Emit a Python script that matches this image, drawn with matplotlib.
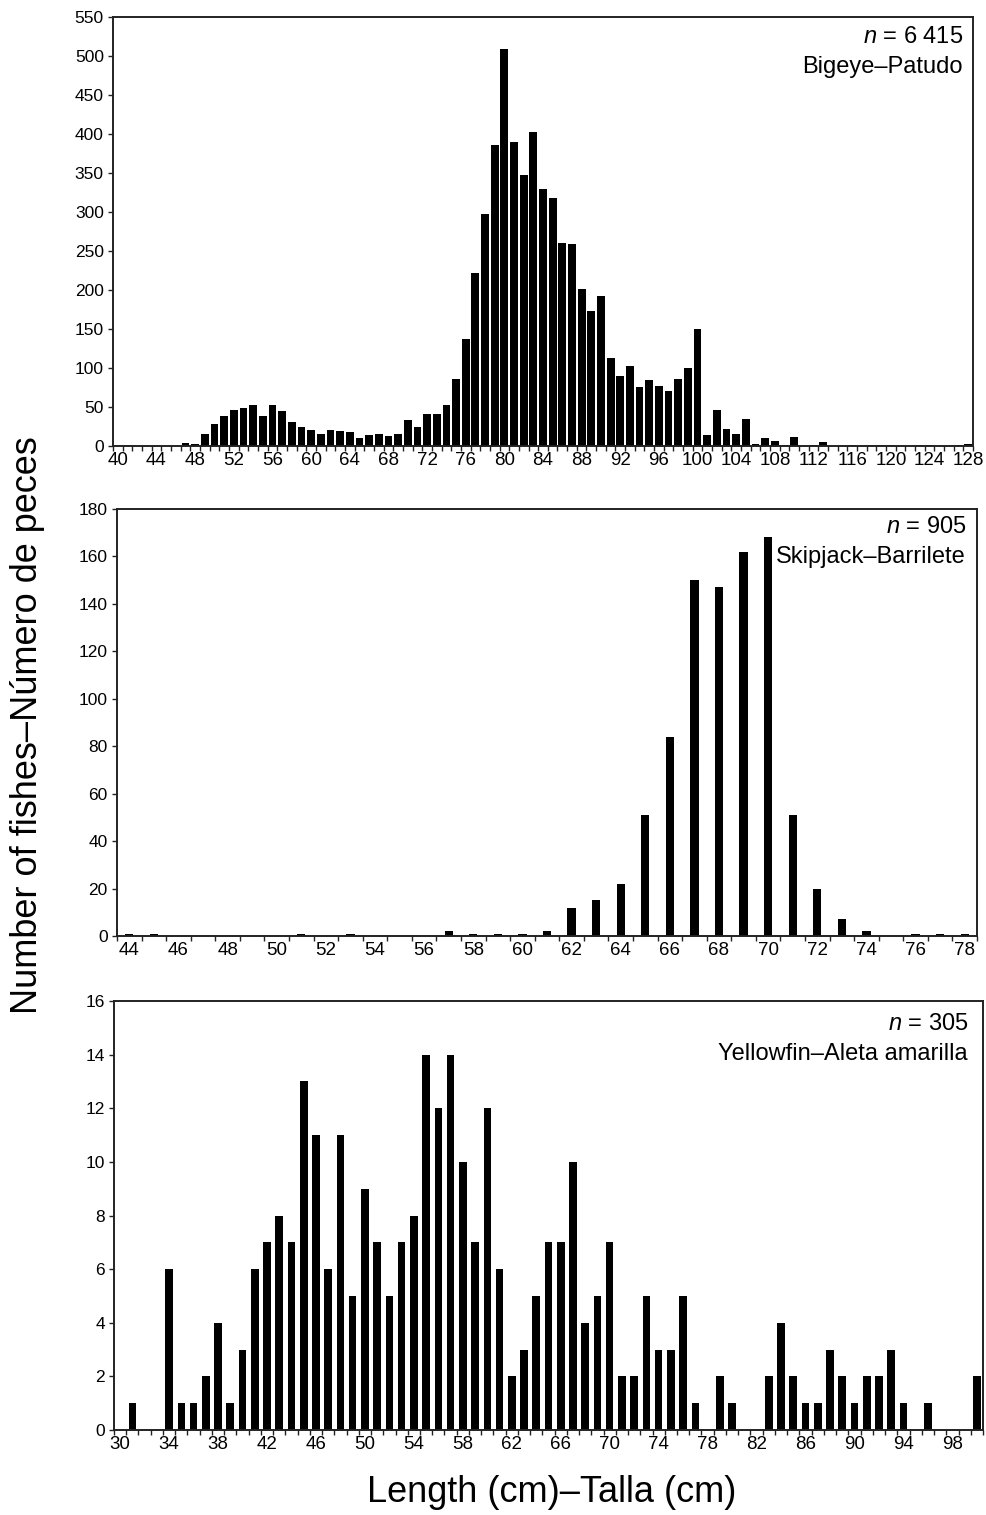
import numpy as np
import matplotlib
matplotlib.use("Agg")
import matplotlib.pyplot as plt

plt.rcParams['font.family'] = ['Liberation Sans', 'DejaVu Sans']
plt.rcParams['mathtext.fontset'] = 'custom'
plt.rcParams['mathtext.rm'] = 'Liberation Sans'
plt.rcParams['mathtext.it'] = 'Liberation Sans:italic'

# Bigeye length classes 40..128 cm
bigeye_len = list(range(40, 129))
bigeye_cnt = [0, 1, 0, 0, 0, 0, 0, 4, 3, 15,
              28, 39, 46, 49, 52, 39, 52, 45, 31, 24,
              20, 15, 20, 19, 18, 10, 14, 15, 13, 16,
              33, 24, 41, 41, 52, 86, 137, 222, 298, 386,
              509, 390, 347, 402, 330, 318, 260, 259, 201, 173,
              192, 113, 90, 102, 76, 84, 77, 71, 86, 100,
              150, 14, 46, 22, 16, 35, 2, 10, 7, 1,
              11, 0, 1, 5, 0, 0, 1, 0, 1, 1,
              1, 0, 0, 1, 1, 0, 0, 1, 2]
bigeye_ticks = list(range(40, 129, 4))

# Skipjack length classes 44..78 cm
skj_len = list(range(44, 79))
skj_cnt = [1, 1, 0, 0, 0, 0, 0, 1, 0, 1,
           0, 0, 0, 2, 1, 1, 1, 2, 12, 15,
           22, 51, 84, 150, 147, 162, 168, 51, 20, 7,
           2, 0, 1, 1, 1]
skj_ticks = list(range(44, 79, 2))

# Yellowfin length classes 30..100 cm
yft_len = list(range(30, 101))
yft_cnt = [0, 1, 0, 0, 6, 1, 1, 2, 4, 1,
           3, 6, 7, 8, 7, 13, 11, 6, 11, 5,
           9, 7, 5, 7, 8, 14, 12, 14, 10, 7,
           12, 6, 2, 3, 5, 7, 7, 10, 4, 5,
           7, 2, 2, 5, 3, 3, 5, 1, 0, 2,
           1, 0, 0, 2, 4, 2, 1, 1, 3, 2,
           1, 2, 2, 3, 1, 0, 1, 0, 0, 0,
           2]
yft_ticks = list(range(30, 99, 4))

W, H = 987, 1515
fig = plt.figure(figsize=(W / 100, H / 100), dpi=100)


def px_axes(left, top, right, bottom):
    return fig.add_axes([left / W, 1 - bottom / H, (right - left) / W, (bottom - top) / H])


panels = [
    dict(box=(113, 17, 973, 446), x=bigeye_len, y=bigeye_cnt, ticks=bigeye_ticks,
         width=0.8, ymax=550, ystep=50, n="6 415", name="Bigeye–Patudo", off=(10, 20)),
    dict(box=(117, 509, 977, 936), x=skj_len, y=skj_cnt, ticks=skj_ticks,
         width=0.34, ymax=180, ystep=20, n="905", name="Skipjack–Barrilete", off=(11, 18)),
    dict(box=(114, 1001, 983, 1430), x=yft_len, y=yft_cnt, ticks=yft_ticks,
         width=0.62, ymax=16, ystep=2, n="305", name="Yellowfin–Aleta amarilla", off=(15, 23)),
]

for p in panels:
    ax = px_axes(*p['box'])
    ax.bar(p['x'], p['y'], width=p['width'], color='black', edgecolor='none')
    lo, hi = p['x'][0] - 0.5, p['x'][-1] + 0.5
    ax.set_xlim(lo, hi)
    ax.set_ylim(0, p['ymax'])
    ax.set_yticks(np.arange(0, p['ymax'] + 1, p['ystep']))
    ax.set_xticks(p['ticks'])
    ax.set_xticks(np.arange(lo, hi + 0.01, 1), minor=True)
    ax.tick_params(axis='x', which='major', length=0, pad=4, labelsize=13.5)
    ax.tick_params(axis='x', which='minor', length=3.6, width=1, direction='out', color='#222')
    ax.tick_params(axis='y', which='major', length=3.6, width=1, direction='out',
                   color='#222', labelsize=12.5, pad=3)
    for s in ax.spines.values():
        s.set_linewidth(1.4)
        s.set_color('#222')
    ox, oy = p['off']
    ax.annotate(r"$n$ = " + p['n'], xy=(1, 1), xycoords='axes fraction',
                xytext=(-ox, -oy), textcoords='offset pixels',
                ha='right', va='center', fontsize=17)
    ax.annotate(p['name'], xy=(1, 1), xycoords='axes fraction',
                xytext=(-ox, -oy - 30), textcoords='offset pixels',
                ha='right', va='center', fontsize=17)

fig.text(552 / W, 1 - 1492 / H, "Length (cm)–Talla (cm)", ha='center', va='center', fontsize=26)
fig.text(28 / W, 1 - 725 / H, "Number of fishes–Número de peces", ha='center', va='center',
         rotation=90, fontsize=26)

fig.savefig("out.png", dpi=100)
